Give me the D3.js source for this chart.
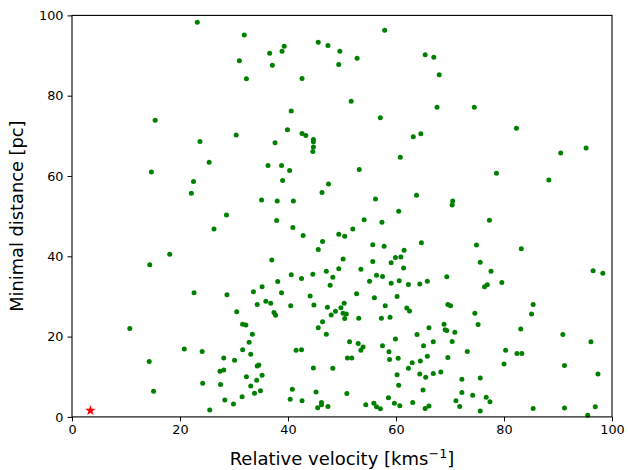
<!DOCTYPE html>
<html><head><meta charset="utf-8">
<script src="https://cdn.jsdelivr.net/npm/d3@7"></script>
<style>body{margin:0;background:#fff}svg{display:block;font-family:"DejaVu Sans",sans-serif}</style>
</head><body>
<svg id="c" width="628" height="470"></svg>
<script>
const velocity = [23.2,15.4,23.7,25.4,14.7,22.5,22.1,
31.9,45.6,47.4,49.6,39.3,38.9,36.6,31.0,37.1,49.4,32.3,42.6,40.6,39.9,30.4,42.6,43.3,44.7,44.7,44.7,44.6,37.6,36.3,38.8,40.3,39.0,47.5,46.3,35.1,38.0,41.0,28.6,37.9,
57.9,52.8,65.4,67.0,68.0,51.7,67.6,74.5,57.1,64.6,63.2,60.8,53.2,63.8,56.2,70.5,70.4,60.5,54.1,
82.3,90.5,95.2,78.6,88.3,77.3,
18.1,14.4,22.6,10.7,20.8,24.1,14.3,24.2,15.1,25.5,
26.3,40.9,42.8,49.4,50.5,46.4,45.6,37.0,50.2,49.4,40.6,42.5,44.6,47.1,48.3,47.8,38.1,35.2,33.6,38.8,28.7,44.1,34.3,35.9,36.8,40.5,44.8,47.3,50.4,49.8,48.8,48.0,50.2,50.8,50.5,30.5,37.4,37.7,46.4,45.6,47.1,31.6,32.2,33.4,32.8,31.6,33.1,41.5,42.5,28.1,30.1,27.4,28.1,34.3,34.6,32.3,35.2,34.2,27.5,33.1,34.9,33.8,44.7,48.3,40.8,45.2,31.5,28.3,29.9,40.4,42.6,46.2,46.2,45.5,47.4,50.9,
57.4,52.0,55.7,57.8,64.7,74.9,75.6,61.5,59.9,60.9,59.1,55.7,53.5,61.4,56.4,57.5,69.4,55.1,59.1,60.6,62.3,64.4,65.8,52.7,56.0,60.2,58.0,62.0,62.5,69.6,70.1,74.6,75.2,53.1,57.3,58.9,68.9,69.1,69.4,70.9,66.1,63.9,59.9,66.9,70.4,51.4,53.0,53.9,53.5,57.5,65.1,58.7,51.0,51.8,58.8,60.4,65.8,64.5,63.0,69.6,73.2,62.3,60.2,64.4,65.5,66.9,68.3,72.2,75.6,60.5,65.0,72.2,74.2,58.6,59.7,60.7,63.1,54.4,55.9,56.4,57.1,65.4,66.1,71.1,71.8,75.6,
83.2,77.6,96.5,98.3,79.6,76.9,76.4,85.4,85.1,83.1,90.9,96.1,80.3,82.4,83.3,80.0,91.2,97.4,76.7,77.4,85.4,91.2,96.9,95.5];
const distance = [98.3,73.9,68.6,63.4,61.0,58.6,55.7,
95.1,93.3,92.5,91.1,92.3,91.1,90.6,88.7,87.6,87.8,84.2,84.3,76.2,71.5,70.2,70.6,70.1,69.1,68.5,67.2,66.1,68.3,62.6,62.6,61.4,58.9,58.0,55.9,54.0,53.8,53.8,50.3,48.9,
96.3,89.3,90.2,89.6,85.2,78.6,77.1,77.1,74.5,70.5,69.8,64.7,61.6,55.2,54.3,53.8,52.8,51.2,49.1,
71.9,65.7,67.0,60.7,59.0,49.0,
40.5,37.9,30.9,22.0,16.9,16.3,13.8,8.4,6.4,1.7,
46.8,47.2,45.2,45.5,45.0,43.7,41.7,39.1,39.3,36.9,35.4,34.5,35.5,36.3,34.8,32.8,33.7,32.4,31.2,30.9,30.4,30.1,28.0,28.8,28.3,27.7,27.9,27.3,28.3,27.2,26.3,25.4,25.8,25.6,24.5,26.2,26.0,25.3,23.7,22.2,20.6,23.1,22.9,20.6,18.6,16.7,15.6,16.6,16.7,14.7,14.1,11.4,11.7,12.7,12.9,10.0,10.4,9.1,8.1,7.7,6.5,5.9,12.2,12.1,6.9,6.2,5.0,4.2,3.2,4.4,4.0,3.6,3.0,2.3,2.6,5.8,
48.5,46.8,42.9,42.5,43.4,42.8,38.5,41.5,39.7,39.8,38.4,38.7,36.8,37.1,35.3,35.0,34.9,33.8,33.3,33.9,33.0,33.1,33.8,30.7,29.7,30.0,27.7,27.1,26.4,28.0,27.7,25.8,23.0,24.6,24.6,24.8,23.1,21.7,21.5,21.1,22.2,20.5,19.4,18.7,18.8,18.7,18.3,17.4,16.6,17.7,17.7,16.2,14.7,14.7,14.3,14.6,15.1,13.9,13.5,14.8,16.3,12.1,10.5,10.7,9.9,10.8,11.2,9.4,9.7,7.9,6.7,6.1,5.4,4.8,3.4,2.8,3.6,3.0,3.4,2.5,2.0,2.1,2.7,4.0,2.6,1.5,
41.9,36.3,36.4,35.8,33.5,32.9,32.4,28.0,25.6,21.9,20.5,18.7,16.6,15.8,15.8,13.2,12.8,10.7,4.9,3.8,2.1,2.2,2.5,0.4];
const starPoint = [3.4, 1.7];
const xTicks = [0,20,40,60,80,100];
const yTicks = [0,20,40,60,80,100];
const xLabel = "Relative velocity [kms";
const yLabel = "Minimal distance [pc]";

const svg = d3.select("#c");
const L=72, R=612, T=15.4, B=416.9;
const x = d3.scaleLinear().domain([0,100]).range([L,R]);
const y = d3.scaleLinear().domain([0,100]).range([B,T]);
const pts = velocity.map((v,i)=>({v, d:distance[i]}));

const plot = svg.append("g");
plot.selectAll("circle").data(pts).join("circle")
  .attr("cx",p=>x(p.v)).attr("cy",p=>y(p.d)).attr("r",2.5).attr("fill","#008000");
plot.append("path").attr("d", d3.symbol(d3.symbolStar, 34)())
  .attr("transform",`translate(${x(starPoint[0])},${y(starPoint[1])+0.5})`).attr("fill","#ff0000");

const xa = svg.append("g").attr("transform",`translate(0,${B})`)
  .call(d3.axisBottom(x).tickValues(xTicks).tickSize(4.5).tickPadding(4).tickFormat(d3.format("d")));
const ya = svg.append("g").attr("transform",`translate(${L},0)`)
  .call(d3.axisLeft(y).tickValues(yTicks).tickSize(4.5).tickPadding(4).tickFormat(d3.format("d")));
[xa,ya].forEach(a=>{a.select(".domain").remove();
  a.selectAll("text").attr("font-size",12.8).attr("font-family","DejaVu Sans").attr("fill","#000");
  a.selectAll("line").attr("stroke","#000").attr("stroke-width",1);});
svg.append("rect").attr("x",L).attr("y",T).attr("width",R-L).attr("height",B-T)
  .attr("fill","none").attr("stroke","#000").attr("stroke-width",1.1);

const xt = svg.append("text").attr("x",(L+R)/2).attr("y",465).attr("text-anchor","middle")
  .attr("font-size",18).attr("fill","#000");
xt.append("tspan").text(xLabel);
xt.append("tspan").attr("dy",-7).attr("font-size",12.8).text("\u22121");
xt.append("tspan").attr("dy",7).text("]");
svg.append("text").attr("transform",`translate(23,${(T+B)/2}) rotate(-90)`).attr("text-anchor","middle")
  .attr("font-size",17.8).attr("fill","#000").text(yLabel);
</script>
</body></html>
